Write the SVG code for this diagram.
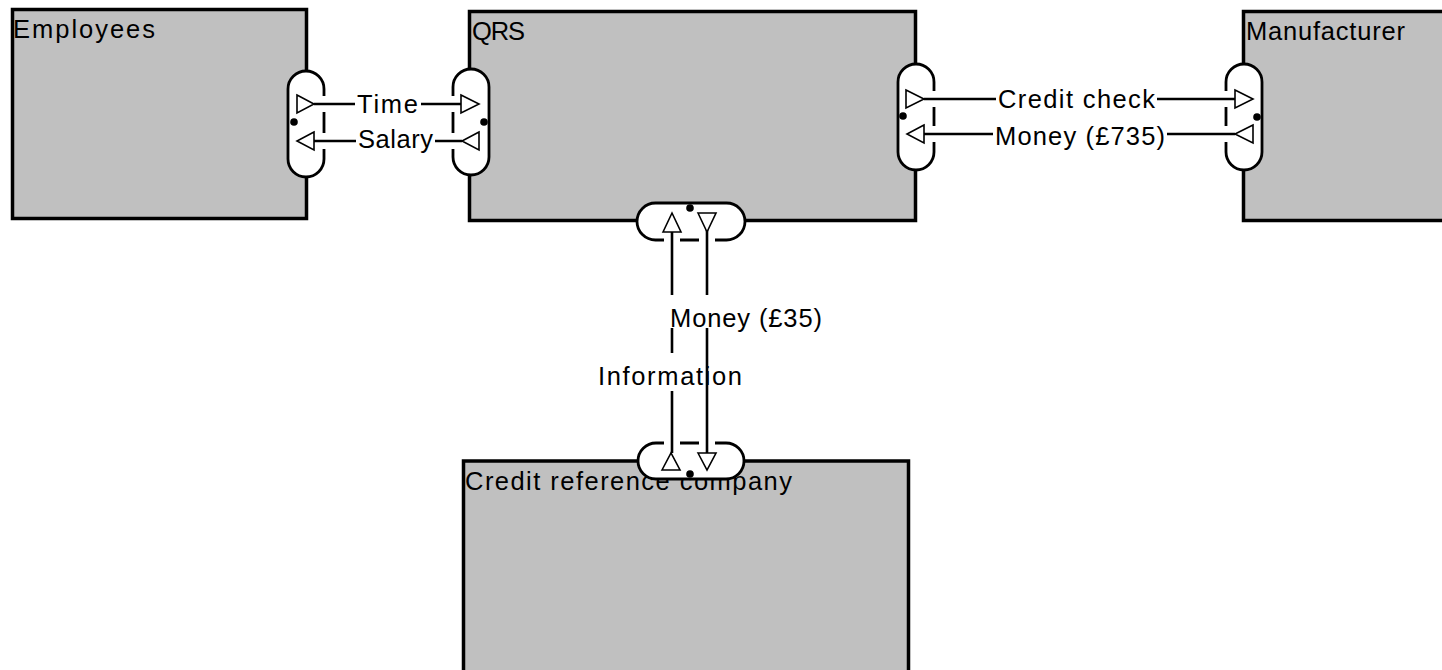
<svg xmlns="http://www.w3.org/2000/svg" width="1442" height="670" viewBox="0 0 1442 670">
<style>
.box{fill:#c0c0c0;stroke:#000;stroke-width:3.5}
.pill{fill:#fff;stroke:#000;stroke-width:2.8}
.gap{fill:#fff;stroke:none}
.dot{fill:#000}
.tri{fill:#fff;stroke:#000;stroke-width:1.6}
.ln{stroke:#000;stroke-width:2.6;fill:none}
.lbg{fill:#fff}
text{font-family:"Liberation Sans",Arial,sans-serif;font-size:25.5px;fill:#000}
</style>
<rect width="1442" height="670" fill="#fff"/>
<g id="employees">
<rect class="box" x="12.5" y="9.5" width="294" height="209"/>
<text x="13" y="38" textLength="142">Employees</text>
<rect class="pill" x="288" y="71" width="36" height="106" rx="18"/>
<rect class="gap" x="321" y="96" width="6" height="16"/>
<rect class="gap" x="321" y="133" width="6" height="16"/>
<circle class="dot" cx="294" cy="122" r="3.8"/>
</g>
<g id="qrs">
<rect class="box" x="469.5" y="11.5" width="446" height="209"/>
<text x="472" y="40" textLength="53">QRS</text>
<rect class="pill" x="453" y="69" width="36" height="106" rx="18"/>
<rect class="gap" x="450" y="96" width="6" height="16"/>
<rect class="gap" x="450" y="133" width="6" height="16"/>
<circle class="dot" cx="484" cy="122" r="3.8"/>
<rect class="pill" x="898" y="64" width="36" height="106" rx="18"/>
<rect class="gap" x="931" y="91" width="6" height="16"/>
<rect class="gap" x="931" y="126" width="6" height="16"/>
<circle class="dot" cx="903" cy="116" r="3.8"/>
<rect class="pill" x="637" y="203" width="108" height="37" rx="18.5"/>
<rect class="gap" x="664" y="237" width="16" height="6"/>
<rect class="gap" x="699" y="237" width="16" height="6"/>
<circle class="dot" cx="690" cy="208" r="3.8"/>
</g>
<g id="manufacturer">
<rect class="box" x="1243.5" y="11.5" width="220" height="209"/>
<text x="1246" y="40" textLength="159">Manufacturer</text>
<rect class="pill" x="1226" y="64" width="36" height="106" rx="18"/>
<rect class="gap" x="1223" y="91" width="6" height="16"/>
<rect class="gap" x="1223" y="126" width="6" height="16"/>
<circle class="dot" cx="1257" cy="117" r="3.8"/>
</g>
<g id="credit-reference-company">
<rect class="box" x="463.5" y="461" width="445" height="230"/>
<text x="465" y="490" textLength="327">Credit reference company</text>
<rect class="pill" x="638" y="443" width="106" height="36" rx="18"/>
<rect class="gap" x="664" y="440" width="16" height="6"/>
<rect class="gap" x="699" y="440" width="16" height="6"/>
<circle class="dot" cx="690" cy="474" r="3.8"/>
</g>
<g id="connectors">
<line class="ln" x1="314" y1="104" x2="461" y2="104"/>
<polygon class="tri" points="297,95 314,104 297,113"/>
<polygon class="tri" points="461,95 479,104 461,113"/>
<rect class="lbg" x="355" y="89" width="66" height="29"/>
<text x="357" y="113" textLength="61">Time</text>
<line class="ln" x1="314" y1="141" x2="462" y2="141"/>
<polygon class="tri" points="314,132 297,141 314,150"/>
<polygon class="tri" points="479,132 462,141 479,150"/>
<rect class="lbg" x="356" y="125" width="79" height="29"/>
<text x="358" y="148" textLength="75">Salary</text>
<line class="ln" x1="924" y1="99" x2="1235" y2="99"/>
<polygon class="tri" points="906,90 924,99 906,108"/>
<polygon class="tri" points="1235,90 1253,99 1235,108"/>
<rect class="lbg" x="996" y="85" width="161" height="29"/>
<text x="998" y="108" textLength="157">Credit check</text>
<line class="ln" x1="924" y1="134" x2="1235" y2="134"/>
<polygon class="tri" points="924,125 907,134 924,143"/>
<polygon class="tri" points="1253,125 1235,134 1253,143"/>
<rect class="lbg" x="993" y="121" width="174" height="29"/>
<text x="995" y="145" textLength="170">Money (£735)</text>
<line class="ln" x1="672" y1="232" x2="672" y2="453"/>
<polygon class="tri" points="663,232 672,213 681,232"/>
<polygon class="tri" points="662,470 671,453 680,470"/>
<rect class="lbg" x="596" y="353" width="148" height="38"/>
<text x="598" y="385" textLength="144">Information</text>
<line class="ln" x1="707" y1="213" x2="707" y2="453"/>
<polygon class="tri" points="698,213 707,232 716,213"/>
<polygon class="tri" points="698,453 707,470 716,453"/>
<rect class="lbg" x="668" y="295" width="156" height="33"/>
<text x="670" y="327" textLength="152">Money (£35)</text>
</g>
</svg>
